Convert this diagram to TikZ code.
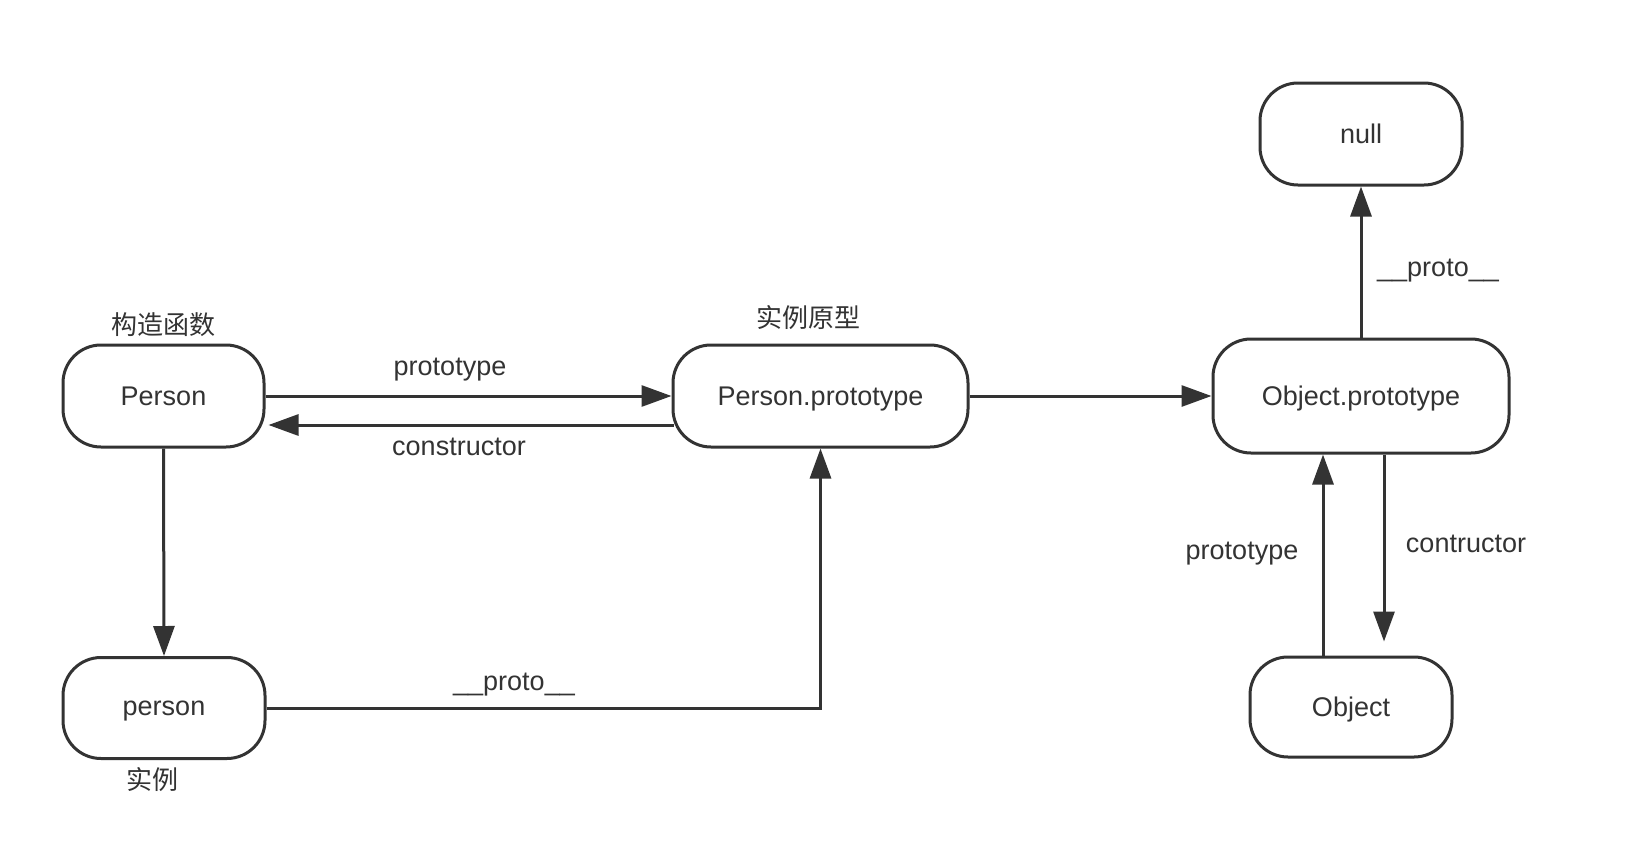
\documentclass[tikz,border=0pt]{standalone}
\usepackage{fontspec}
\setmainfont{Liberation Sans}
\newfontfamily\cjk{Noto Sans CJK SC}
\usetikzlibrary{arrows.meta,calc}
\definecolor{ink}{HTML}{333333}
\tikzset{
  box/.style={draw=ink, line width=3pt, rounded corners=38pt, inner sep=0pt,
    text=ink, text depth=0pt, font=\fontsize{27}{31}\selectfont, fill=white},
  arr/.style={draw=ink, line width=3pt, -{Triangle[length=30pt,width=21pt]}},
  lbl/.style={text=ink, inner sep=0pt, font=\fontsize{27}{31}\selectfont},
  zh/.style={text=ink, inner sep=0pt, font=\cjk\fontsize{26}{30}\selectfont}
}
\begin{document}
\begin{tikzpicture}[x=1pt,y=-1pt]
\useasboundingbox (0,0) rectangle (1652,854);
\fill[white] (0,0) rectangle (1652,854);

\node[box, minimum width=201pt, minimum height=102pt] (Person) at (163.5,396) {Person};
\node[box, minimum width=295pt, minimum height=102pt] (proto) at (820.5,396) {Person.prototype};
\node[box, minimum width=296pt, minimum height=114pt] (objproto) at (1361,396) {Object.prototype};
\node[box, minimum width=202pt, minimum height=102pt] (null) at (1361,134) {null};
\node[box, minimum width=202pt, minimum height=101pt] (person) at (164,708) {person};
\node[box, minimum width=202pt, minimum height=100pt] (Object) at (1351,707) {Object};

\node[zh] (zPerson) at (163,325) {构造函数};
\node[zh] (zproto) at (808,318) {实例原型};
\node[zh] (zperson) at (152,780) {实例};

\draw[arr] (Person.east) -- (proto.west);
\draw[arr] ($(proto.west)+(2,29)$) -- ($(Person.east)+(3,29)$);
\draw[arr] (Person.south) -- (person.north);
\draw[arr] (person.east) -| (proto.south);
\draw[arr] (proto.east) -- (objproto.west);
\draw[arr] (objproto.north) -- (null.south);
\draw[arr] ([xshift=-38pt]objproto.south |- Object.north) -- ([xshift=-38pt]objproto.south);
\draw[arr, shorten >=14pt] ([xshift=23pt]objproto.south) -- ([xshift=23pt]objproto.south |- Object.north);

\node[lbl] (l1) at (450,370) {prototype};
\node[lbl] (l2) at (459,447) {constructor};
\node[lbl] (l3) at (514,685) {\_\_proto\_\_};
\node[lbl] (l4) at (1438,271) {\_\_proto\_\_};
\node[lbl] (l5) at (1242,554) {prototype};
\node[lbl] (l6) at (1466,544) {contructor};
\end{tikzpicture}
\end{document}
